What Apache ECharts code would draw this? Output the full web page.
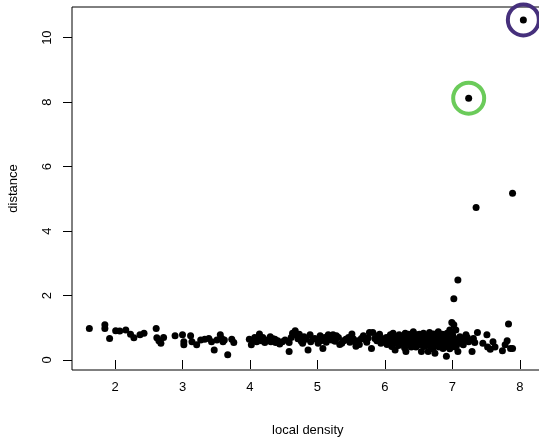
<!DOCTYPE html>
<html>
<head>
<meta charset="utf-8">
<script src="https://cdn.jsdelivr.net/npm/echarts@6/dist/echarts.min.js"></script>
<style>
  html, body { margin: 0; padding: 0; background: #fff; }
  #chart { width: 539px; height: 437px; }
</style>
</head>
<body>
<div id="chart"></div>
<script>
// axis ticks
const xTicks = [2, 3, 4, 5, 6, 7, 8];
const yTicks = [0, 2, 4, 6, 8, 10];

// [local density, distance]
const points = [
  [1.62, 0.98], [1.85, 1.09], [1.85, 0.98], [1.92, 0.67], [2.01, 0.91], [2.07, 0.90],
  [2.16, 0.93], [2.23, 0.80], [2.28, 0.69], [2.37, 0.78], [2.43, 0.83], [2.61, 0.98],
  [2.62, 0.69], [2.65, 0.60], [2.68, 0.52], [2.72, 0.70], [2.89, 0.75], [3.00, 0.78],
  [3.02, 0.57], [3.02, 0.47], [3.12, 0.75], [3.14, 0.57], [3.21, 0.47], [3.27, 0.62],
  [3.33, 0.64], [3.39, 0.67], [3.43, 0.57], [3.47, 0.31], [3.51, 0.62], [3.56, 0.78],
  [3.58, 0.67], [3.60, 0.57], [3.62, 0.62], [3.67, 0.16], [3.73, 0.64], [3.76, 0.54],
  [3.99, 0.64], [4.02, 0.47], [4.05, 0.62], [4.07, 0.70], [4.10, 0.57], [4.12, 0.66],
  [4.14, 0.81], [4.17, 0.60], [4.19, 0.70], [4.22, 0.54], [4.26, 0.62], [4.30, 0.72],
  [4.31, 0.57], [4.34, 0.66], [4.37, 0.64], [4.38, 0.54], [4.41, 0.60], [4.44, 0.50],
  [4.48, 0.57], [4.52, 0.62], [4.58, 0.26], [4.58, 0.54], [4.61, 0.70], [4.63, 0.83],
  [4.67, 0.91], [4.68, 0.78], [4.71, 0.66], [4.73, 0.80], [4.76, 0.58], [4.78, 0.52],
  [4.80, 0.72], [4.83, 0.64], [4.86, 0.31], [4.89, 0.78], [4.90, 0.57], [4.93, 0.64],
  [4.96, 0.67], [5.01, 0.52], [5.04, 0.75], [5.05, 0.60], [5.08, 0.36], [5.11, 0.70],
  [5.13, 0.55], [5.16, 0.78], [5.19, 0.68], [5.21, 0.62], [5.23, 0.78], [5.26, 0.58],
  [5.28, 0.75], [5.31, 0.70], [5.33, 0.48], [5.36, 0.52], [5.39, 0.60], [5.42, 0.64],
  [5.46, 0.70], [5.48, 0.55], [5.51, 0.81], [5.53, 0.66], [5.56, 0.57], [5.57, 0.43],
  [5.60, 0.60], [5.62, 0.48], [5.65, 0.67], [5.68, 0.75], [5.70, 0.64], [5.73, 0.55],
  [5.75, 0.68], [5.77, 0.85], [5.80, 0.36], [5.82, 0.85], [5.85, 0.67], [5.88, 0.60],
  [5.90, 0.75], [5.92, 0.80], [5.94, 0.52], [5.97, 0.66], [6.00, 0.62], [6.02, 0.70],
  [6.03, 0.48], [6.05, 0.57], [6.06, 0.70], [6.08, 0.78], [6.09, 0.55], [6.10, 0.42],
  [6.12, 0.64], [6.12, 0.83], [6.14, 0.72], [6.15, 0.31], [6.16, 0.60], [6.18, 0.52],
  [6.20, 0.45], [6.21, 0.78], [6.23, 0.66], [6.25, 0.62], [6.26, 0.50], [6.28, 0.72],
  [6.29, 0.38], [6.30, 0.83], [6.31, 0.26], [6.32, 0.64], [6.33, 0.52], [6.35, 0.80],
  [6.36, 0.55], [6.37, 0.70], [6.38, 0.45], [6.39, 0.40], [6.40, 0.68], [6.41, 0.58],
  [6.42, 0.88], [6.43, 0.74], [6.44, 0.60], [6.45, 0.50], [6.46, 0.40], [6.47, 0.78],
  [6.48, 0.66], [6.49, 0.47], [6.50, 0.58], [6.51, 0.80], [6.52, 0.67], [6.53, 0.48],
  [6.54, 0.26], [6.55, 0.70], [6.56, 0.60], [6.57, 0.83], [6.58, 0.42], [6.59, 0.54],
  [6.60, 0.75], [6.61, 0.52], [6.62, 0.72], [6.63, 0.65], [6.64, 0.26], [6.65, 0.45],
  [6.66, 0.85], [6.67, 0.62], [6.68, 0.55], [6.69, 0.40], [6.70, 0.68], [6.71, 0.35],
  [6.72, 0.81], [6.73, 0.60], [6.74, 0.21], [6.75, 0.48], [6.76, 0.78], [6.77, 0.57],
  [6.78, 0.66], [6.79, 0.88], [6.80, 0.40], [6.81, 0.58], [6.82, 0.47], [6.83, 0.52],
  [6.84, 0.72], [6.85, 0.80], [6.86, 0.36], [6.86, 0.62], [6.88, 0.45], [6.89, 0.62],
  [6.90, 0.72], [6.91, 0.12], [6.91, 0.55], [6.92, 0.83], [6.93, 0.66], [6.94, 0.40],
  [6.95, 0.48], [6.96, 0.93], [6.96, 0.35], [6.97, 0.57], [6.98, 0.60], [6.99, 1.16],
  [7.00, 0.80], [7.01, 0.72], [7.02, 1.09], [7.02, 0.52], [7.03, 0.65], [7.04, 0.40],
  [7.05, 0.93], [7.06, 0.45], [7.07, 0.57], [7.08, 0.26], [7.09, 0.60], [7.11, 0.72],
  [7.13, 0.68], [7.14, 0.52], [7.16, 0.47], [7.18, 0.62], [7.20, 0.78], [7.22, 0.70],
  [7.24, 0.57], [7.29, 0.26], [7.31, 0.67], [7.33, 0.54], [7.37, 0.85], [7.45, 0.52],
  [7.51, 0.78], [7.52, 0.40], [7.56, 0.33], [7.60, 0.57], [7.63, 0.40], [7.74, 0.29],
  [7.78, 0.47], [7.81, 0.60], [7.83, 1.12], [7.86, 0.36], [7.89, 0.36],
  [7.02, 1.90], [7.08, 2.48], [7.35, 4.73], [7.89, 5.17],
  [7.24, 8.12], [8.05, 10.55]
];

// the two circled points and their ring colours
const centers = [[8.05, 10.55], [7.24, 8.12]];
const centerColors = ['#46307c', '#6bcb5a'];

const font = 'Liberation Sans, Arial, Helvetica, sans-serif';

const chart = echarts.init(document.getElementById('chart'), null, { renderer: 'canvas' });

chart.setOption({
  animation: false,
  backgroundColor: '#fff',
  grid: {
    show: true,
    left: 72,
    top: 7,
    right: -4.6,
    bottom: 67,
    borderColor: '#000',
    borderWidth: 1,
    backgroundColor: 'transparent',
    outerBoundsMode: 'none'
  },
  xAxis: {
    type: 'value',
    min: 1.363,
    max: 8.35,
    splitLine: { show: false },
    axisLine: { show: false },
    axisTick: { show: true, customValues: xTicks, length: 9, lineStyle: { color: '#000' } },
    axisLabel: { customValues: xTicks, fontSize: 13, color: '#000', margin: 11, fontFamily: font },
    name: 'local density',
    nameLocation: 'middle',
    nameGap: 54,
    nameMoveOverlap: false,
    nameTextStyle: { fontSize: 13, color: '#000', fontFamily: font }
  },
  yAxis: {
    type: 'value',
    min: -0.31,
    max: 10.95,
    splitLine: { show: false },
    axisLine: { show: false },
    axisTick: { show: true, customValues: yTicks, length: 9, lineStyle: { color: '#000' } },
    axisLabel: { customValues: yTicks, fontSize: 13, color: '#000', margin: 18, rotate: 90, fontFamily: font },
    name: 'distance',
    nameLocation: 'middle',
    nameGap: 52,
    nameMoveOverlap: false,
    nameTextStyle: { fontSize: 13, color: '#000', fontFamily: font }
  },
  series: [
    {
      type: 'scatter',
      data: points,
      symbol: 'circle',
      symbolSize: 7,
      itemStyle: { color: '#000', opacity: 1 },
      silent: true
    },
    {
      type: 'scatter',
      data: centers.map((c, i) => ({
        value: c,
        itemStyle: { borderColor: centerColors[i] }
      })),
      symbol: 'circle',
      symbolSize: 31,
      clip: false,
      z: 5,
      itemStyle: { color: 'rgba(0,0,0,0)', borderWidth: 4, opacity: 1 },
      silent: true
    }
  ]
});
</script>
</body>
</html>
